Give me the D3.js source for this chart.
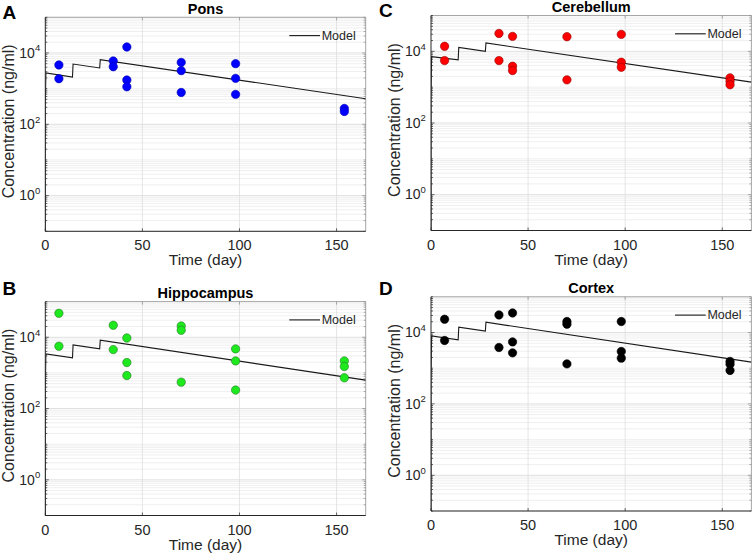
<!DOCTYPE html>
<html>
<head>
<meta charset="utf-8">
<script src="https://cdn.jsdelivr.net/npm/d3@7"></script>
<style>
  body { margin: 0; background: #fff; }
  svg { display: block; font-family: "Liberation Sans", Arial, sans-serif; }
</style>
</head>
<body>
<svg id="chart" width="754" height="556"></svg>
<script>

//////////////////
// Data
//////////////////

// model curve vertices (day / concentration)
var modelDays = [0, 0, 0.3, 14, 14.3, 28, 28.3, 165];
var ponsModel = [0.01, 300, 2750, 2100, 4900, 3800, 6500, 520];
var hippoModel = [0.01, 300, 3410, 2640, 6100, 4710, 8240, 627];
var cerebModel = [0.01, 500, 7130, 5770, 12900, 10000, 17100, 1380];
var cortexModel = [0.01, 500, 8060, 6220, 14100, 10900, 19400, 1480];

// observed samples
var ponsDays = [7, 7, 35, 35, 42, 42, 42, 70, 70, 70, 98, 98, 98, 154, 154];
var ponsConc = [4600, 1900, 5960, 4120, 14700, 1740, 1130, 5440, 3190, 780, 5010, 1940, 690, 278, 229];

var hippoDays = [7, 7, 35, 35, 42, 42, 42, 70, 70, 70, 98, 98, 98, 154, 154, 154];
var hippoConc = [46900, 5600, 21700, 4500, 9550, 1950, 843, 20700, 15700, 550, 4710, 2170, 330, 2170, 1510, 728];

var cerebDays = [7, 7, 35, 35, 42, 42, 42, 70, 70, 98, 98, 98, 154, 154, 154];
var cerebConc = [13800, 5520, 31600, 5520, 26100, 3830, 2910, 25600, 1600, 29700, 4960, 3600, 1820, 1470, 1170];

var cortexDays = [7, 7, 35, 35, 42, 42, 42, 70, 70, 70, 98, 98, 98, 154, 154, 154];
var cortexConc = [23500, 5970, 31000, 3800, 35300, 5450, 2690, 20300, 17100, 1320, 20300, 2940, 1910, 1550, 1300, 866];

var xTicks = [0, 50, 100, 150];
var yTicks = [1, 100, 10000];
var yTickExp = ["0", "2", "4"];

//////////////////
// Layout
//////////////////

var panels = [
    { letter: "A", title: "Pons", days: ponsDays, conc: ponsConc, model: ponsModel,
      fill: "#0000ff", edge: "#0000b0",
      left: 45.3, top: 17.3, bottom: 231.3, lx: 2.5, ly: 18.5 },
    { letter: "C", title: "Cerebellum", days: cerebDays, conc: cerebConc, model: cerebModel,
      fill: "#ff0000", edge: "#900000",
      left: 431, top: 15.5, bottom: 230.5, lx: 379, ly: 17 },
    { letter: "B", title: "Hippocampus", days: hippoDays, conc: hippoConc, model: hippoModel,
      fill: "#1ee81e", edge: "#2a7a2a",
      left: 45.3, top: 301.6, bottom: 515.5, lx: 2.5, ly: 295 },
    { letter: "D", title: "Cortex", days: cortexDays, conc: cortexConc, model: cortexModel,
      fill: "#000000", edge: "#000000",
      left: 431, top: 296.8, bottom: 511, lx: 379, ly: 294.5 }
];

var plotWidth = 320.4;
var svg = d3.select("#chart");

// all grid levels: 1..9 x 10^k inside [0.1, 1e5]
var minorLevels = [];
for (var k = -1; k < 5; k++) {
    for (var m = 1; m < 10; m++) { minorLevels.push(m * Math.pow(10, k)); }
}
minorLevels.push(1e5);

//////////////////////
// Draw a panel
//////////////////////

function drawPanel(p, i) {

    var right = p.left + plotWidth;
    var x = d3.scaleLinear().domain([0, 165]).range([p.left, right]);
    var y = d3.scaleLog().domain([0.1, 1e5]).range([p.bottom, p.top]);

    var g = svg.append("g").attr("class", "panel");

    // clip for the model line
    var clipId = "clip" + i;
    svg.append("clipPath").attr("id", clipId)
        .append("rect")
            .attr("x", p.left).attr("y", p.top)
            .attr("width", plotWidth).attr("height", p.bottom - p.top);

    // horizontal grid (minor + major)
    g.selectAll(".hgrid")
        .data(minorLevels)
        .enter()
        .append("line")
            .attr("x1", p.left).attr("x2", right)
            .attr("y1", function(d) { return y(d); })
            .attr("y2", function(d) { return y(d); })
            .attr("stroke", function(d) { return yTicks.indexOf(d) >= 0 ? "#d8d8d8" : "#ebebeb"; })
            .attr("stroke-width", 0.8);

    // vertical grid
    g.selectAll(".vgrid")
        .data(xTicks.slice(1))
        .enter()
        .append("line")
            .attr("x1", function(d) { return x(d); })
            .attr("x2", function(d) { return x(d); })
            .attr("y1", p.top).attr("y2", p.bottom)
            .attr("stroke", "#dedede")
            .attr("stroke-width", 0.8);

    // box: top + right light, left + bottom dark
    g.append("line").attr("x1", p.left).attr("x2", right).attr("y1", p.top).attr("y2", p.top)
        .attr("stroke", "#a6a6a6");
    g.append("line").attr("x1", right).attr("x2", right).attr("y1", p.top).attr("y2", p.bottom)
        .attr("stroke", "#a6a6a6");

    // ticks on the right side (inward)
    g.selectAll(".rtick")
        .data(minorLevels)
        .enter()
        .append("line")
            .attr("x1", right)
            .attr("x2", function(d) { return right - (yTicks.indexOf(d) >= 0 ? 3.5 : 2); })
            .attr("y1", function(d) { return y(d); })
            .attr("y2", function(d) { return y(d); })
            .attr("stroke", "#8a8a8a").attr("stroke-width", 0.7);

    // ticks on top
    g.selectAll(".ttick")
        .data(xTicks)
        .enter()
        .append("line")
            .attr("x1", function(d) { return x(d); })
            .attr("x2", function(d) { return x(d); })
            .attr("y1", p.top).attr("y2", p.top + 3)
            .attr("stroke", "#8a8a8a").attr("stroke-width", 0.7);

    // model line
    var line = d3.line()
        .x(function(d) { return x(d[0]); })
        .y(function(d) { return y(d[1]); });

    g.append("path")
        .datum(d3.zip(modelDays, p.model))
        .attr("clip-path", "url(#" + clipId + ")")
        .attr("fill", "none")
        .attr("stroke", "#1a1a1a")
        .attr("stroke-width", 1.1)
        .attr("d", line);

    // samples
    g.selectAll(".dot")
        .data(d3.zip(p.days, p.conc))
        .enter()
        .append("circle")
            .attr("cx", function(d) { return x(d[0]); })
            .attr("cy", function(d) { return y(d[1]); })
            .attr("r", 4.2)
            .attr("fill", p.fill)
            .attr("stroke", p.edge)
            .attr("stroke-width", 0.6);

    // left + bottom axes
    g.append("line").attr("x1", p.left).attr("x2", p.left).attr("y1", p.top).attr("y2", p.bottom)
        .attr("stroke", "#262626");
    g.append("line").attr("x1", p.left).attr("x2", right).attr("y1", p.bottom).attr("y2", p.bottom)
        .attr("stroke", "#262626");

    g.selectAll(".ltick")
        .data(minorLevels)
        .enter()
        .append("line")
            .attr("x1", p.left)
            .attr("x2", function(d) { return p.left + (yTicks.indexOf(d) >= 0 ? 3.5 : 2); })
            .attr("y1", function(d) { return y(d); })
            .attr("y2", function(d) { return y(d); })
            .attr("stroke", "#262626").attr("stroke-width", 0.7);

    g.selectAll(".btick")
        .data(xTicks)
        .enter()
        .append("line")
            .attr("x1", function(d) { return x(d); })
            .attr("x2", function(d) { return x(d); })
            .attr("y1", p.bottom).attr("y2", p.bottom - 3)
            .attr("stroke", "#262626").attr("stroke-width", 0.7);

    // x tick labels
    g.selectAll(".xlab")
        .data(xTicks)
        .enter()
        .append("text")
            .attr("x", function(d) { return x(d); })
            .attr("y", p.bottom + 19)
            .attr("text-anchor", "middle")
            .attr("font-size", 14.5)
            .attr("fill", "#262626")
            .text(function(d) { return d; });

    // y tick labels (10 with superscript)
    g.selectAll(".ylab")
        .data(yTicks)
        .enter()
        .append("text")
            .attr("x", p.left - 26)
            .attr("y", function(d) { return y(d) + 4.8; })
            .attr("font-size", 14)
            .attr("fill", "#262626")
            .each(function(d, j) {
                var t = d3.select(this);
                t.append("tspan").text("10");
                t.append("tspan")
                    .attr("font-size", 9.5)
                    .attr("dy", -6.5)
                    .text(yTickExp[j]);
            });

    // axis titles
    g.append("text")
        .attr("x", (p.left + right) / 2)
        .attr("y", p.bottom + 34)
        .attr("text-anchor", "middle")
        .attr("font-size", 15.5)
        .attr("fill", "#262626")
        .text("Time (day)");

    g.append("text")
        .attr("transform", "translate(" + (p.left - 31.5) + "," + ((p.top + p.bottom) / 2 - 3) + ") rotate(-90)")
        .attr("text-anchor", "middle")
        .attr("font-size", 16)
        .attr("fill", "#262626")
        .text("Concentration (ng/ml)");

    // title + panel letter
    g.append("text")
        .attr("x", (p.left + right) / 2)
        .attr("y", p.top - 3.5)
        .attr("text-anchor", "middle")
        .attr("font-size", 14.5)
        .attr("font-weight", "bold")
        .attr("fill", "#000")
        .text(p.title);

    g.append("text")
        .attr("x", p.lx)
        .attr("y", p.ly)
        .attr("font-size", 19)
        .attr("font-weight", "bold")
        .attr("fill", "#000")
        .text(p.letter);

    // legend
    var ly = p.top + 18.3;
    g.append("line")
        .attr("x1", p.left + 244).attr("x2", p.left + 274.7)
        .attr("y1", ly).attr("y2", ly)
        .attr("stroke", "#1a1a1a").attr("stroke-width", 1.1);
    g.append("text")
        .attr("x", p.left + 276.4)
        .attr("y", ly + 4.3)
        .attr("font-size", 12.5)
        .attr("fill", "#262626")
        .text("Model");
}

panels.forEach(drawPanel);

</script>
</body>
</html>
